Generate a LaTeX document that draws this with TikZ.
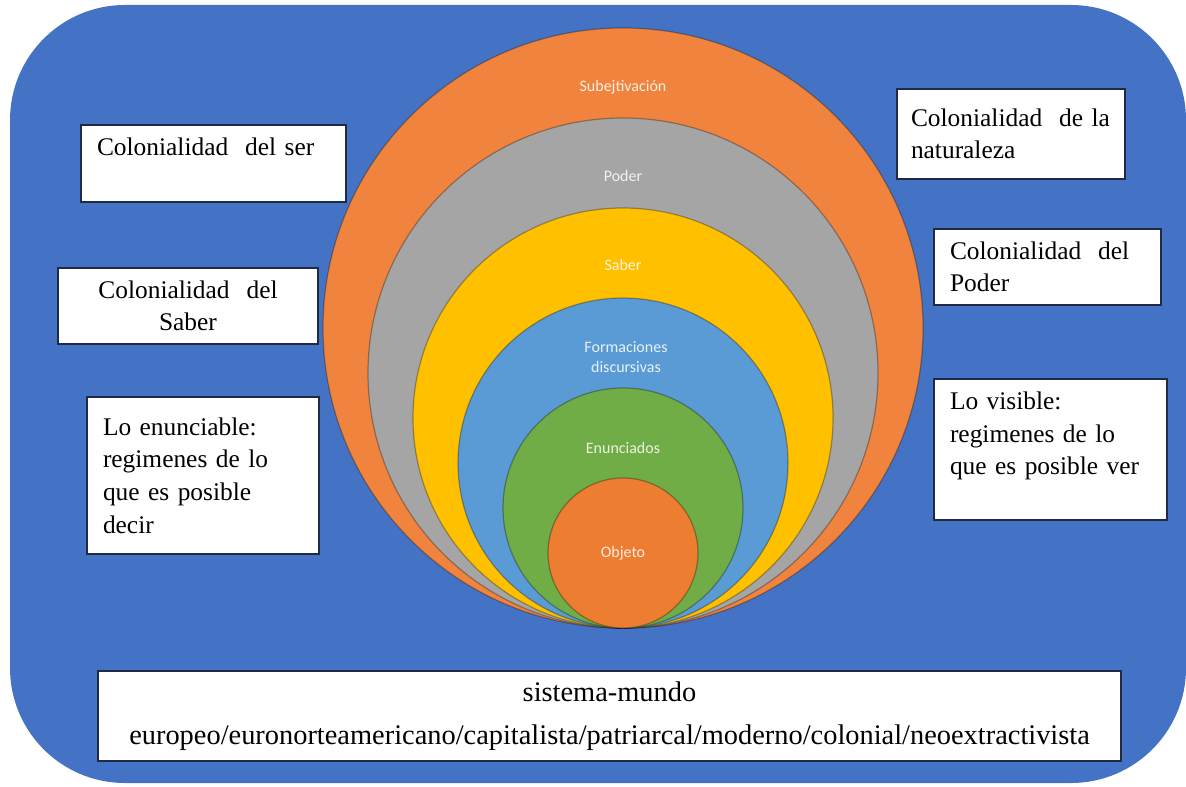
\documentclass[tikz,border=0pt]{standalone}
\usepackage{fontspec}
\setmainfont{Liberation Serif}
\newfontfamily\calibri{Carlito}
\definecolor{fondo}{HTML}{4472C4}
\definecolor{borde}{HTML}{1F2A44}
\definecolor{naranjaA}{HTML}{F0843E}
\definecolor{gris}{HTML}{A5A5A5}
\definecolor{amarillo}{HTML}{FFC000}
\definecolor{celeste}{HTML}{5B9BD5}
\definecolor{verde}{HTML}{70AD47}
\definecolor{naranjaB}{HTML}{ED7D31}

\begin{document}
\begin{tikzpicture}[x=0.5pt,y=-0.5pt,
  caja/.style={draw=borde,fill=white,line width=1pt,anchor=north west,
    inner xsep=8pt,inner ysep=2pt,align=left,
    font=\fontsize{12.7}{16.3}\selectfont},
  anillo/.style={fill=#1,draw=black,draw opacity=0.3,line width=0.6pt},
  etiq/.style={text=white,text opacity=0.85,align=center,
    font=\calibri\fontsize{8}{9.6}\selectfont}]

  \useasboundingbox (0,0) rectangle (1186,786) ;
  \fill[fondo,rounded corners=57.5pt] (10,5) rectangle (1186,783) ;

  % circulos tangentes en (623,628)
  \foreach \r/\c in {300/naranjaA,255/gris,210/amarillo,165/celeste,120/verde,75/naranjaB}
    \filldraw[anillo=\c] (623,628-\r) circle [radius=\r*0.5pt] ;

  \node[etiq] (subj)   at (623,87)  {Subejtivación};
  \node[etiq] (poder)  at (623,176) {Poder};
  \node[etiq] (saber)  at (623,265) {Saber};
  \node[etiq] (formac) at (626,357) {Formaciones\\discursivas};
  \node[etiq] (enunc)  at (623,448) {Enunciados};
  \node[etiq] (objeto) at (623,553) {Objeto};

  \node[caja,text width=116.5pt,minimum height=38.5pt,inner ysep=0pt] (ser) at (80,124)
    {Colonialidad\ \ del ser\\[1pt]\mbox{}};
  \node[caja,text width=114pt,minimum height=38pt,align=center] (csaber) at (57,267)
    {Colonialidad\ \ del\\Saber};
  \node[caja,text width=100pt,minimum height=78.5pt] (decir) at (86,396)
    {Lo enunciable:\\regimenes de lo\\que es posible\\decir};

  \node[caja,text width=100pt,inner xsep=7pt,minimum height=45pt] (natur) at (896,88)
    {Colonialidad\ \ de la\\naturaleza};
  \node[caja,text width=97.5pt,minimum height=38pt] (cpoder) at (933,228)
    {Colonialidad\ \ del\\Poder};
  \node[caja,text width=100.5pt,minimum height=70.5pt] (ver) at (933,378)
    {Lo visible:\\regimenes de lo\\que es posible ver\\\mbox{}};

  \node[caja,text width=495.5pt,minimum height=45pt,align=center,
    font=\fontsize{14.2}{21.5}\selectfont] (sistema) at (97,670)
    {sistema-mundo\\europeo/euronorteamericano/capitalista/patriarcal/moderno/colonial/neoextractivista};

\end{tikzpicture}
\end{document}
